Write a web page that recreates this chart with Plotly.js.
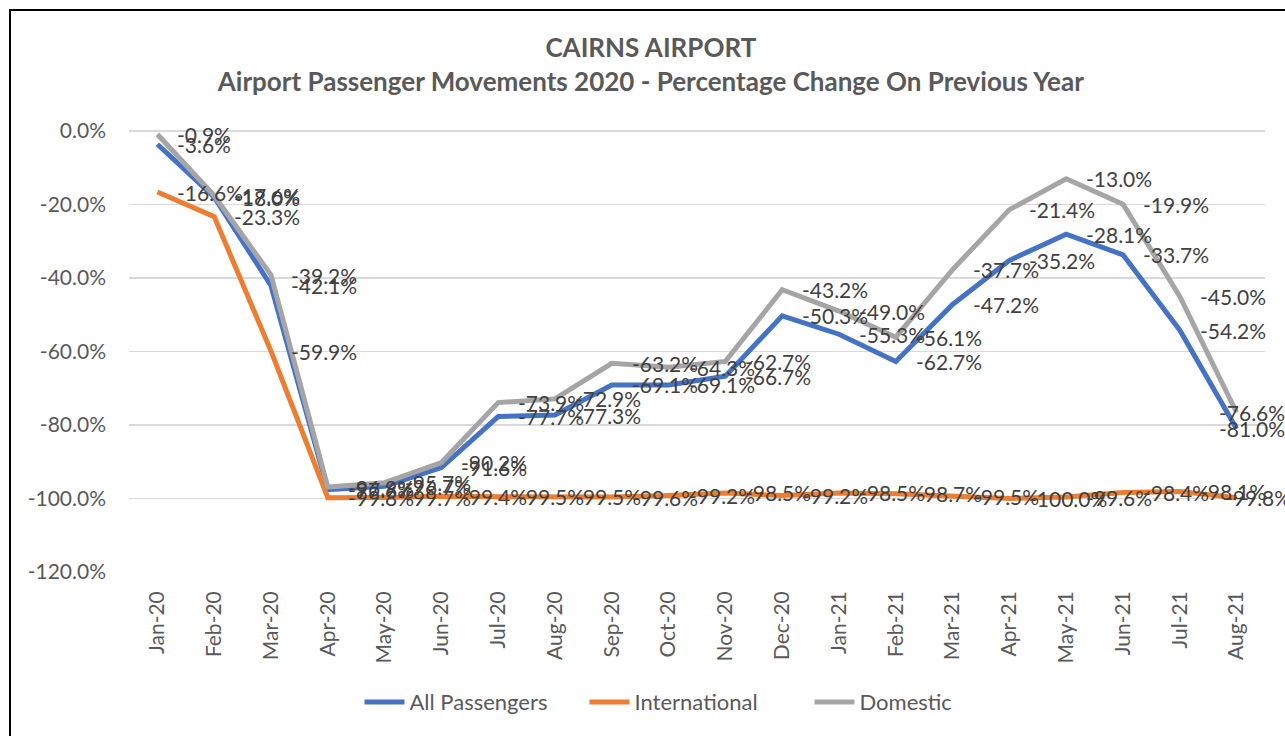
<!DOCTYPE html>
<html>
<head>
<meta charset="utf-8">
<script src="https://cdn.plot.ly/plotly-3.0.1.min.js"></script>
<style>
  html, body { margin: 0; padding: 0; background: #fff; overflow: hidden; }
  #chart { position: absolute; left: 9px; top: 9px; width: 1290px; height: 740px; border: 2px solid #000; }
</style>
</head>
<body>
<div id="chart"></div>
<script>
const months = ['Jan-20','Feb-20','Mar-20','Apr-20','May-20','Jun-20','Jul-20','Aug-20','Sep-20','Oct-20','Nov-20','Dec-20',
                'Jan-21','Feb-21','Mar-21','Apr-21','May-21','Jun-21','Jul-21','Aug-21'];
const allPassengers = [-3.6, -18.0, -42.1, -97.6, -96.7, -91.6, -77.7, -77.3, -69.1, -69.1, -66.7, -50.3,
                       -55.3, -62.7, -47.2, -35.2, -28.1, -33.7, -54.2, -81.0];
const international = [-16.6, -23.3, -59.9, -99.8, -99.7, -99.4, -99.5, -99.5, -99.6, -99.2, -98.5, -99.2,
                       -98.5, -98.7, -99.5, -100.0, -99.6, -98.4, -98.1, -99.8];
const domestic = [-0.9, -17.6, -39.2, -96.9, -95.7, -90.2, -73.9, -72.9, -63.2, -64.3, -62.7, -43.2,
                  -49.0, -56.1, -37.7, -21.4, -13.0, -19.9, -45.0, -76.6];
const yTicks = [0, -20, -40, -60, -80, -100, -120];

const FONT = 'Lato, "Open Sans", sans-serif';
const seriesList = [
  {name: 'All Passengers', y: allPassengers, color: '#4472C4'},
  {name: 'International', y: international, color: '#ED7D31'},
  {name: 'Domestic', y: domestic, color: '#A5A5A5'}
];

const traces = seriesList.map(s => ({
  type: 'scatter', mode: 'lines', name: s.name,
  x: months, y: s.y,
  line: {color: s.color, width: 5, shape: 'linear'},
  hoverinfo: 'skip'
}));

const annotations = [];
seriesList.forEach(s => {
  s.y.forEach((v, i) => {
    const last = i === s.y.length - 1;
    annotations.push({
      x: months[i], y: v, xref: 'x', yref: 'y',
      text: v.toFixed(1) + '%',
      showarrow: false, xanchor: 'left', yanchor: 'middle',
      xshift: last ? (s.name === 'International' ? -14 : -20) : 18,
      font: {family: FONT, size: 21, color: '#404040'}
    });
  });
});

const layout = {
  width: 1290, height: 740,
  margin: {l: 118, r: 36, t: 120, b: 179},
  paper_bgcolor: '#fff', plot_bgcolor: '#fff',
  showlegend: true,
  title: {
    text: '<b>CAIRNS AIRPORT</b><br><b>Airport Passenger Movements 2020 - Percentage Change On Previous Year</b>',
    x: 0.496, xref: 'container', xanchor: 'center',
    y: 0.9372, yref: 'container', yanchor: 'middle',
    font: {family: FONT, size: 26, color: '#595959'}
  },
  xaxis: {
    type: 'category', tickangle: -90, range: [-0.5, 19.5],
    showgrid: false, zeroline: false, showline: false, ticks: '',
    tickfont: {family: FONT, size: 21, color: '#595959'},
    ticklabelstandoff: 14
  },
  yaxis: {
    range: [-120, 0], tickvals: yTicks,
    ticktext: yTicks.map(v => v.toFixed(1) + '%'),
    showgrid: true, gridcolor: '#D9D9D9', gridwidth: 1.5,
    zeroline: true, zerolinecolor: '#D9D9D9', zerolinewidth: 1.5,
    showline: false, ticks: '',
    tickfont: {family: FONT, size: 21, color: '#595959'},
    ticklabelstandoff: 22
  },
  legend: {
    orientation: 'h', x: 0.50, xanchor: 'center', y: -0.295, yanchor: 'middle',
    font: {family: FONT, size: 22, color: '#595959'},
    traceorder: 'normal', itemwidth: 40,
    entrywidth: 170, entrywidthmode: 'pixels'
  },
  annotations: annotations
};

Plotly.newPlot('chart', traces, layout, {displayModeBar: false, staticPlot: true});
</script>
</body>
</html>
